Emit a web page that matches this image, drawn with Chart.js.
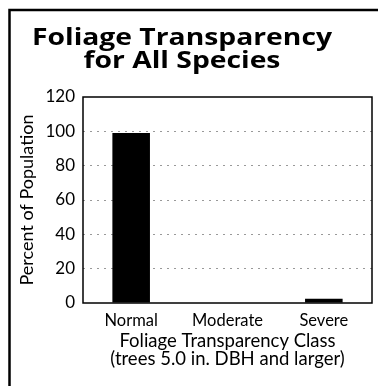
<!DOCTYPE html>
<html>
<head>
<meta charset="utf-8">
<script src="https://cdn.jsdelivr.net/npm/chart.js@4/dist/chart.umd.min.js"></script>
<style>
  html, body { margin: 0; padding: 0; background: #fff; }
  #wrap { width: 378px; height: 386px; position: relative; }
</style>
</head>
<body>
<div id="wrap"><canvas id="c" width="378" height="386"></canvas></div>
<script>
// Foliage transparency classes and percent of trees in each
const categories = ['Normal', 'Moderate', 'Severe'];
const percentValues = [99, 0, 2.5];
const yTicks = [0, 20, 40, 60, 80, 100, 120];
const titleLines = ['Foliage Transparency', 'for All Species'];
const yAxisTitle = 'Percent of Population';
const xAxisTitle = ['Foliage Transparency Class', '(trees 5.0 in. DBH and larger)'];

const FONT = 'Lato, "Open Sans", sans-serif';
const TITLE_FONT = 'bold 24px "Open Sans", Lato, sans-serif';

// Frame, plot border and two-line heading
const decor = {
  id: 'decor',
  beforeDraw(chart) {
    const ctx = chart.ctx;
    ctx.save();
    ctx.fillStyle = '#fff';
    ctx.fillRect(0, 0, chart.width, chart.height);
    ctx.strokeStyle = '#000';
    ctx.lineWidth = 2.5;
    ctx.beginPath();
    ctx.moveTo(9.5, chart.height);
    ctx.lineTo(9.5, 10);
    ctx.lineTo(chart.width, 10);
    ctx.stroke();
    ctx.fillStyle = '#000';
    ctx.font = TITLE_FONT;
    ctx.textAlign = 'center';
    ctx.textBaseline = 'middle';
    // widen the heading a little so the first line spans about 300px
    const sx = Math.max(1, 300 / ctx.measureText(titleLines[0]).width);
    ctx.translate(182, 0);
    ctx.scale(sx, 1);
    ctx.fillText(titleLines[0], 0, 38);
    ctx.fillText(titleLines[1], 0, 61);
    ctx.restore();
  },
  afterDatasetsDraw(chart) {
    const a = chart.chartArea;
    const ctx = chart.ctx;
    ctx.save();
    ctx.strokeStyle = '#000';
    ctx.lineWidth = 1.5;
    ctx.strokeRect(a.left, a.top, a.right - a.left, a.bottom - a.top);
    ctx.restore();
  }
};

new Chart(document.getElementById('c'), {
  type: 'bar',
  data: {
    labels: categories,
    datasets: [{
      data: percentValues,
      backgroundColor: '#000',
      borderWidth: 0,
      categoryPercentage: 1,
      barPercentage: 0.39
    }]
  },
  options: {
    responsive: false,
    animation: false,
    events: [],
    layout: { padding: { left: 12, right: 6, top: 97, bottom: 0 } },
    plugins: { legend: { display: false }, title: { display: false }, tooltip: { enabled: false } },
    scales: {
      x: {
        grid: { display: false, drawTicks: false },
        border: { display: false },
        ticks: { color: '#000', font: { family: FONT, size: 16.5 }, padding: 8, maxRotation: 0 },
        title: {
          display: true,
          text: xAxisTitle,
          color: '#000',
          font: { family: FONT, size: 18.5, lineHeight: 1.0 },
          padding: { top: 0, bottom: 17.5 }
        },
        afterFit(scale) { scale.height = 83; }
      },
      y: {
        min: 0,
        max: 120,
        afterBuildTicks(scale) { scale.ticks = yTicks.map(v => ({ value: v })); },
        grid: {
          drawTicks: false,
          color: ctx => (ctx.tick && (ctx.tick.value === 0 || ctx.tick.value === 120)) ? 'rgba(0,0,0,0)' : 'rgba(0,0,0,0.4)',
          lineWidth: 1
        },
        border: { display: false, dash: [2, 5] },
        ticks: { color: '#000', font: { family: FONT, size: 17 }, padding: 8 },
        title: {
          display: true,
          text: yAxisTitle,
          color: '#000',
          font: { family: FONT, size: 18, lineHeight: 1.0 },
          padding: { top: 6, bottom: 0 }
        },
        afterFit(scale) { scale.width = 71; }
      }
    }
  },
  plugins: [decor]
});
</script>
</body>
</html>
